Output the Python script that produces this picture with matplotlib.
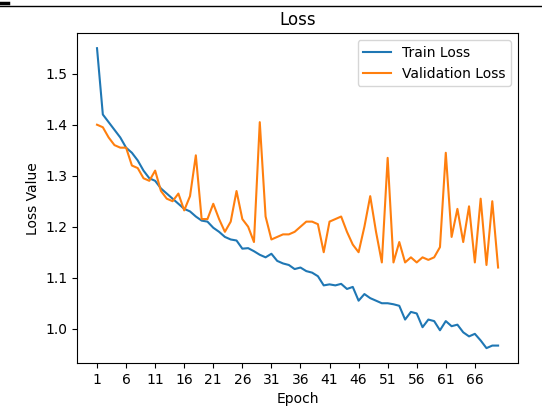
import matplotlib
matplotlib.use("Agg")
import matplotlib.pyplot as plt
from matplotlib.lines import Line2D

epochs = list(range(1, 71))

train_loss = [1.550, 1.420, 1.405, 1.390, 1.375, 1.355, 1.345, 1.330, 1.310, 1.295,
              1.290, 1.275, 1.265, 1.255, 1.245, 1.235, 1.230, 1.220, 1.212, 1.210,
              1.198, 1.190, 1.180, 1.175, 1.173, 1.157, 1.158, 1.152, 1.145, 1.140,
              1.147, 1.133, 1.128, 1.125, 1.117, 1.120, 1.113, 1.110, 1.103, 1.085,
              1.087, 1.085, 1.088, 1.078, 1.082, 1.055, 1.068, 1.060, 1.055, 1.050,
              1.050, 1.048, 1.045, 1.018, 1.033, 1.030, 1.003, 1.018, 1.015, 0.997,
              1.015, 1.005, 1.008, 0.993, 0.985, 0.990, 0.977, 0.962, 0.967, 0.967]

val_loss = [1.400, 1.395, 1.375, 1.360, 1.355, 1.355, 1.320, 1.315, 1.295, 1.290,
            1.310, 1.270, 1.255, 1.250, 1.265, 1.232, 1.260, 1.340, 1.215, 1.215,
            1.245, 1.215, 1.190, 1.210, 1.270, 1.215, 1.200, 1.170, 1.405, 1.220,
            1.175, 1.180, 1.185, 1.185, 1.190, 1.200, 1.210, 1.210, 1.205, 1.150,
            1.210, 1.215, 1.220, 1.190, 1.165, 1.150, 1.200, 1.260, 1.190, 1.130,
            1.335, 1.130, 1.170, 1.130, 1.140, 1.130, 1.140, 1.135, 1.140, 1.160,
            1.345, 1.180, 1.235, 1.170, 1.240, 1.130, 1.255, 1.125, 1.250, 1.120]

fig = plt.figure(figsize=(5.42, 4.15), dpi=100)
ax = fig.add_axes([0.142, 0.125, 0.814, 0.795])

ax.plot(epochs, train_loss, label='Train Loss')
ax.plot(epochs, val_loss, label='Validation Loss')
ax.set_title('Loss')
ax.set_xlabel('Epoch')
ax.set_ylabel('Loss Value')
ax.set_xticks(range(1, 71, 5))
ax.legend(loc='upper right')

# border line from the screenshot top edge
fig.add_artist(Line2D([0, 1], [0.986, 0.986], color='black', lw=1))
fig.add_artist(Line2D([0, 0.015], [0.993, 0.993], color='black', lw=2.5))

fig.savefig('out.png', dpi=100)
